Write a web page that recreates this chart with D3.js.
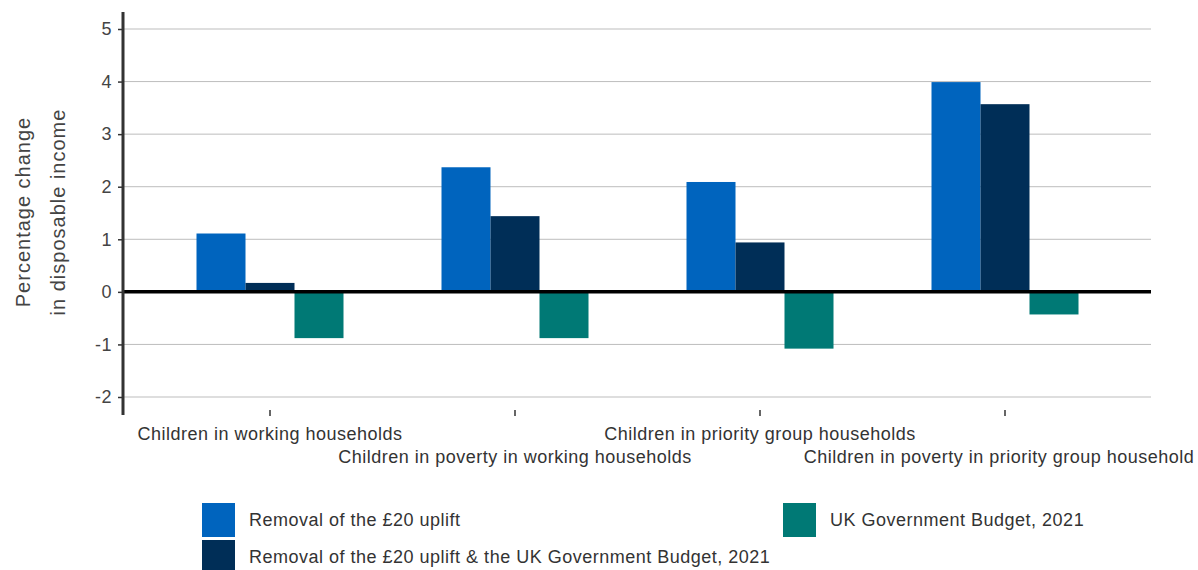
<!DOCTYPE html>
<html>
<head>
<meta charset="utf-8">
<script src="https://cdn.jsdelivr.net/npm/d3@7"></script>
<style>
  html, body { margin: 0; padding: 0; background: #fff; }
  svg { display: block; font-family: "Liberation Sans", Arial, sans-serif; }
</style>
</head>
<body>
<svg id="chart" width="1198" height="570"></svg>
<script>
// Household groups along the x axis
const categories = [
  "Children in working households",
  "Children in poverty in working households",
  "Children in priority group households",
  "Children in poverty in priority group household"
];

// Series names (legend order) and their percentage changes per group
const seriesNames = [
  "Removal of the £20 uplift",
  "Removal of the £20 uplift & the UK Government Budget, 2021",
  "UK Government Budget, 2021"
];
const upliftRemoval = [1.11, 2.37, 2.09, 3.99];
const upliftAndBudget = [0.17, 1.44, 0.94, 3.57];
const budgetOnly = [-0.88, -0.88, -1.08, -0.43];

const yTicks = [-2, -1, 0, 1, 2, 3, 4, 5];
const colors = ["#0064be", "#002e57", "#007975"];

const seriesValues = [upliftRemoval, upliftAndBudget, budgetOnly];

const svg = d3.select("#chart");

const y = d3.scaleLinear().domain([-2, 5]).range([397, 29]);
const x = d3.scaleBand().domain(categories).range([147.5, 1127.5]);
const xInner = d3.scaleBand().domain(d3.range(3)).range([-73.5, 73.5]);

const gridLeft = 123, gridRight = 1151;

// Horizontal grid lines
svg.append("g")
  .selectAll("line")
  .data(yTicks.filter(d => d !== 0))
  .join("line")
  .attr("x1", gridLeft).attr("x2", gridRight)
  .attr("y1", d => y(d)).attr("y2", d => y(d))
  .attr("stroke", "#bdbdbd").attr("stroke-width", 1);

// Bars
const groups = svg.append("g")
  .selectAll("g")
  .data(categories)
  .join("g")
  .attr("transform", d => `translate(${x(d) + x.bandwidth() / 2},0)`);

groups.selectAll("rect")
  .data((d, i) => seriesValues.map((vals, s) => ({ s, v: vals[i] })))
  .join("rect")
  .attr("x", d => xInner(d.s))
  .attr("width", xInner.bandwidth())
  .attr("y", d => y(Math.max(0, d.v)))
  .attr("height", d => Math.abs(y(d.v) - y(0)))
  .attr("fill", d => colors[d.s]);

// Zero line
svg.append("line")
  .attr("x1", gridLeft).attr("x2", gridRight)
  .attr("y1", y(0)).attr("y2", y(0))
  .attr("stroke", "#000").attr("stroke-width", 3.5);

// Y axis
const yAxis = svg.append("g")
  .attr("transform", `translate(${gridLeft},0)`)
  .call(d3.axisLeft(y).tickValues(yTicks).tickSize(5).tickPadding(6).tickFormat(d => String(d)));
yAxis.select(".domain").remove();
yAxis.selectAll(".tick line").attr("stroke", "#333").attr("stroke-width", 1.5);
yAxis.selectAll(".tick text")
  .attr("fill", "#444")
  .style("font-size", "18px")
  .style("letter-spacing", "0.5px")
  .style("font-family", "'Liberation Sans', Arial, sans-serif");
svg.append("line")
  .attr("x1", gridLeft).attr("x2", gridLeft)
  .attr("y1", 12).attr("y2", 415)
  .attr("stroke", "#333").attr("stroke-width", 3);

// Y axis title
const yTitle = svg.append("text")
  .attr("transform", "translate(40,212) rotate(-90)")
  .attr("text-anchor", "middle")
  .attr("fill", "#444")
  .style("font-size", "20px")
  .style("letter-spacing", "1px");
yTitle.append("tspan").attr("x", 0).attr("dy", "-0.5em").text("Percentage change");
yTitle.append("tspan").attr("x", 0).attr("dy", "1.75em").text("in disposable income");

// X axis ticks and staggered labels
const xAxis = svg.append("g")
  .attr("transform", "translate(0,410)")
  .call(d3.axisBottom(x).tickSize(6).tickPadding(0).tickSizeOuter(0));
xAxis.select(".domain").remove();
xAxis.selectAll(".tick line").attr("stroke", "#333").attr("stroke-width", 1.5);
xAxis.selectAll(".tick text")
  .attr("y", (d, i) => i % 2 === 0 ? 30 : 53)
  .attr("dy", 0)
  .attr("dx", (d, i) => i === categories.length - 1 ? -6 : 0)
  .attr("fill", "#333")
  .style("font-size", "18px")
  .style("letter-spacing", "0.5px")
  .style("font-family", "'Liberation Sans', Arial, sans-serif");

// Legend
const legendItems = [
  { name: seriesNames[0], color: colors[0], x: 202, y: 503 },
  { name: seriesNames[2], color: colors[2], x: 783, y: 503 },
  { name: seriesNames[1], color: colors[1], x: 202, y: 540 }
];
const legend = svg.append("g")
  .selectAll("g")
  .data(legendItems)
  .join("g")
  .attr("transform", d => `translate(${d.x},${d.y})`);
legend.append("rect")
  .attr("width", 33).attr("height", 34)
  .attr("fill", d => d.color);
legend.append("text")
  .attr("x", 47).attr("y", 17).attr("dy", "0.35em")
  .attr("fill", "#333")
  .style("font-size", "18px")
  .style("letter-spacing", "0.5px")
  .text(d => d.name);
</script>
</body>
</html>
